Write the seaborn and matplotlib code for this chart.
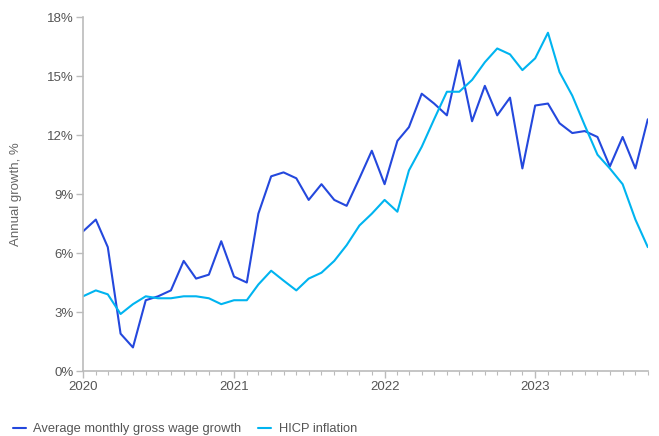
import numpy as np
import pandas as pd
import seaborn as sns
import matplotlib.pyplot as plt
import matplotlib.dates as mdates
from matplotlib.ticker import FuncFormatter, MultipleLocator

# monthly values, Jan 2020 - Oct 2023
months = pd.date_range("2020-01-01", "2023-10-01", freq="MS")

wage_growth = [
    7.1, 7.7, 6.3, 1.9, 1.2, 3.6, 3.8, 4.1, 5.6, 4.7, 4.9, 6.6,
    4.8, 4.5, 8.0, 9.9, 10.1, 9.8, 8.7, 9.5, 8.7, 8.4, 9.8, 11.2,
    9.5, 11.7, 12.4, 14.1, 13.6, 13.0, 15.8, 12.7, 14.5, 13.0, 13.9, 10.3,
    13.5, 13.6, 12.6, 12.1, 12.2, 11.9, 10.4, 11.9, 10.3, 12.8,
]
hicp_inflation = [
    3.8, 4.1, 3.9, 2.9, 3.4, 3.8, 3.7, 3.7, 3.8, 3.8, 3.7, 3.4,
    3.6, 3.6, 4.4, 5.1, 4.6, 4.1, 4.7, 5.0, 5.6, 6.4, 7.4, 8.0,
    8.7, 8.1, 10.2, 11.4, 12.8, 14.2, 14.2, 14.8, 15.7, 16.4, 16.1, 15.3,
    15.9, 17.2, 15.2, 14.0, 12.5, 11.0, 10.3, 9.5, 7.7, 6.3,
]
series_names = ["Average monthly gross wage growth", "HICP inflation"]
colors = ["#2448DD", "#00B4F0"]

df = pd.DataFrame({
    "date": list(months) * 2,
    "value": wage_growth + hicp_inflation,
    "series": [series_names[0]] * len(months) + [series_names[1]] * len(months),
})

sns.set_style("white")
plt.rcParams["font.family"] = ["Liberation Sans", "DejaVu Sans"]

fig = plt.figure(figsize=(6.59, 4.36), dpi=100)
ax = fig.add_axes([0.126, 0.149, 0.857, 0.812])

sns.lineplot(data=df, x="date", y="value", hue="series", palette=colors,
             linewidth=1.5, ax=ax, legend=True)

ax.set_xlim(months[0], months[-1])
ax.set_ylim(0, 18)
ax.yaxis.set_major_locator(MultipleLocator(3))
ax.yaxis.set_major_formatter(FuncFormatter(lambda v, p: f"{v:.0f}%"))
ax.xaxis.set_major_locator(mdates.YearLocator())
ax.xaxis.set_major_formatter(mdates.DateFormatter("%Y"))
ax.xaxis.set_minor_locator(mdates.MonthLocator())

grey = "#BBBBBB"
for side in ["top", "right"]:
    ax.spines[side].set_visible(False)
for side in ["left", "bottom"]:
    ax.spines[side].set_color(grey)
    ax.spines[side].set_linewidth(1.2)

ax.tick_params(axis="both", which="both", bottom=True, left=True)
ax.tick_params(axis="both", which="major", direction="out", length=5, width=1,
               color=grey, labelcolor="#555555", labelsize=9.5, pad=2)
ax.tick_params(axis="x", which="minor", direction="out", length=3, width=0.8, color=grey)

ax.set_xlabel("")
ax.set_ylabel("Annual growth, %", color="#666666", fontsize=9.5, labelpad=18)

handles, labels = ax.get_legend_handles_labels()
ax.legend(handles, labels, loc="upper left", bbox_to_anchor=(-0.145, -0.115),
          ncol=2, frameon=False, fontsize=9.3, handlelength=1.0, columnspacing=1.3,
          labelcolor="#555555", handletextpad=0.6)

fig.savefig("out.png", dpi=100)
